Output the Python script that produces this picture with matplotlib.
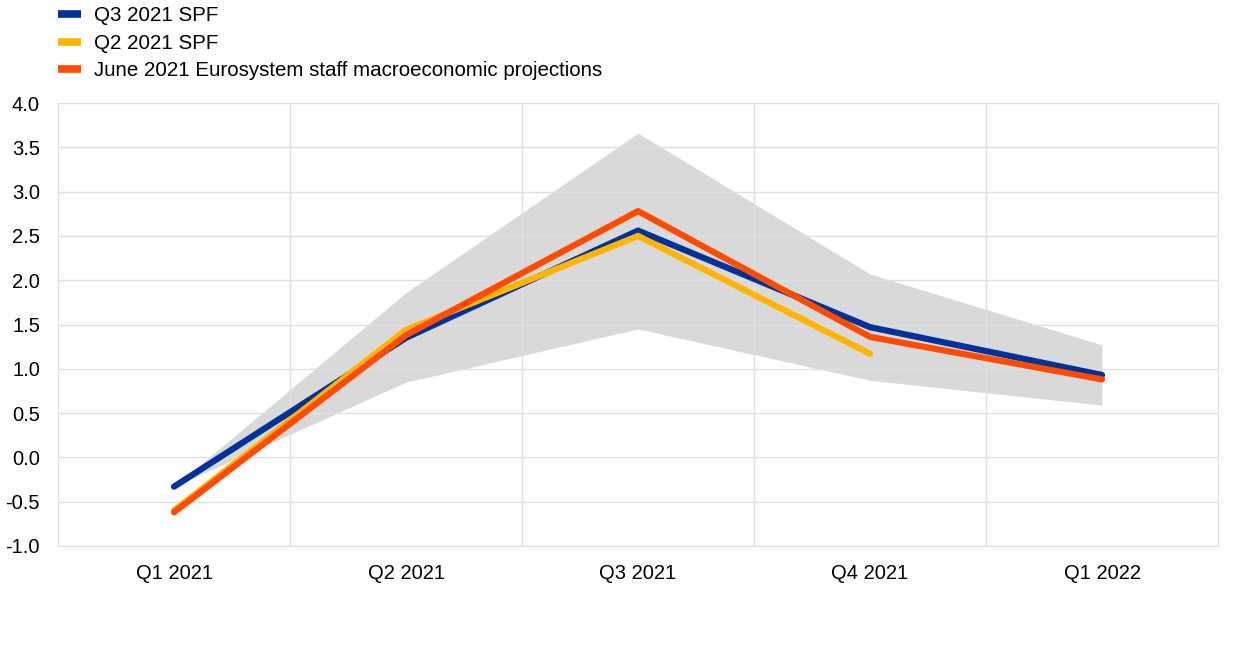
import matplotlib.pyplot as plt
import numpy as np

plt.rcParams['font.family'] = ['Liberation Sans', 'DejaVu Sans']

# 数据
quarters = ['Q1 2021', 'Q2 2021', 'Q3 2021', 'Q4 2021', 'Q1 2022']
spf_q3 = [-0.33, 1.35, 2.56, 1.47, 0.93]
spf_q2 = [-0.60, 1.44, 2.50, 1.17]
eurosystem = [-0.62, 1.38, 2.78, 1.36, 0.88]
band_upper = [-0.33, 1.86, 3.66, 2.07, 1.27]
band_lower = [-0.33, 0.85, 1.45, 0.87, 0.59]

fig = plt.figure(figsize=(12.4, 6.53), dpi=100)
ax = fig.add_axes([0.0468, 0.1639, 0.9355, 0.6783])

x = np.arange(len(quarters))
ax.fill_between(x, band_lower, band_upper, color='#d9d9d9', linewidth=0, zorder=1)
ax.plot(x, spf_q3, color='#003299', lw=4.5, solid_capstyle='round', label='Q3 2021 SPF', zorder=3)
ax.plot(x[:len(spf_q2)], spf_q2, color='#ffb400', lw=4.5, solid_capstyle='round', label='Q2 2021 SPF', zorder=4)
ax.plot(x, eurosystem, color='#ff4b00', lw=4.5, solid_capstyle='round',
        label='June 2021 Eurosystem staff macroeconomic projections', zorder=5)

ax.set_xlim(-0.5, len(quarters) - 0.5)
ax.set_ylim(-1.0, 4.0)
ax.set_yticks(np.arange(-1.0, 4.01, 0.5))
ax.set_yticklabels([f'{v:.1f}' for v in np.arange(-1.0, 4.01, 0.5)])
ax.set_xticks(x)
ax.set_xticklabels(quarters)
ax.set_xticks(x[:-1] + 0.5, minor=True)
ax.tick_params(which='both', length=0, labelsize=14.5)
ax.tick_params(axis='x', pad=13)
ax.tick_params(axis='y', pad=13)
ax.grid(axis='y', which='major', color='#e0e0e0', lw=1, zorder=0)
ax.grid(axis='x', which='minor', color='#e0e0e0', lw=1, zorder=0)
for s in ax.spines.values():
    s.set_color('#e0e0e0')
ax.spines['top'].set_visible(False)

h, l = ax.get_legend_handles_labels()
leg = fig.legend(h, l, loc='upper left', bbox_to_anchor=(0.032, 1.019), frameon=False,
                 fontsize=14.8, handlelength=1.1, handletextpad=0.65, labelspacing=0.42)
for line in leg.get_lines():
    line.set_linewidth(5.5)
    line.set_solid_capstyle('butt')

fig.savefig('out.png', dpi=100)
